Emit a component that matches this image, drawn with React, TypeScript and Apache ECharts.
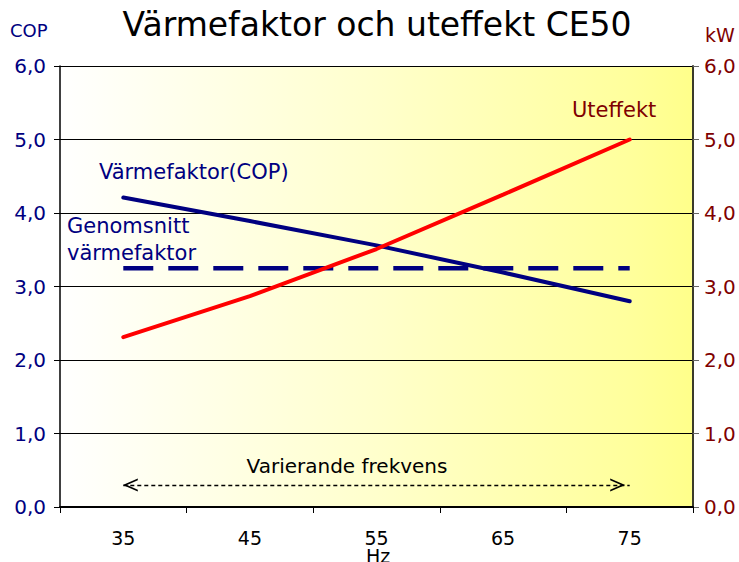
import React, { useEffect, useRef } from "react";
import * as echarts from "echarts";

const categories = ["35", "45", "55", "65", "75"];
const copValues = [4.21, 3.89, 3.56, 3.19, 2.8];
const uteffektValues = [2.31, 2.87, 3.51, 4.25, 5.0];
const averageCop = [3.25, 3.25, 3.25, 3.25, 3.25];
const arrowLevel = 0.3;
const yTicks = [0, 1, 2, 3, 4, 5, 6];

const NAVY = "#000080";
const DARKRED = "#800000";
const FONT = "DejaVu Sans, Verdana, sans-serif";

const fmt = (v: number) => v.toFixed(1).replace(".", ",");

export default function App() {
  const ref = useRef<HTMLDivElement>(null);
  useEffect(() => {
    document.body.style.margin = "0";
    const chart = echarts.init(ref.current!, undefined, { renderer: "svg" });
    const chevron = "path://M0,10 L5,0 L10,10 L8.6,10 L5,2.8 L1.4,10 Z";
    const txt = (text: string, x: number, y: number, size: number, fill: string, align = "left") => ({
      type: "text",
      x,
      y,
      silent: true,
      style: { text, fill, font: `${size}px ${FONT}`, align, verticalAlign: "middle" },
    });
    chart.setOption({
      animation: false,
      textStyle: { fontFamily: FONT },
      grid: {
        left: 60,
        right: 46,
        top: 66,
        bottom: 55,
        outerBoundsMode: "none",
        containLabel: false,
        show: true,
        borderWidth: 0,
        backgroundColor: new echarts.graphic.LinearGradient(0, 0, 1, 0, [
          { offset: 0, color: "#ffffff" },
          { offset: 0.5, color: "#ffffcc" },
          { offset: 0.9, color: "#ffff9c" },
          { offset: 1, color: "#ffff8a" },
        ]),
      },
      xAxis: {
        type: "category",
        data: categories,
        boundaryGap: true,
        axisLine: { lineStyle: { color: "#000", width: 2 } },
        axisTick: { show: true, length: 6, lineStyle: { color: "#000", width: 1 } },
        axisLabel: { color: "#000", fontSize: 19, margin: 21, fontFamily: FONT },
      },
      yAxis: [
        {
          type: "value",
          min: yTicks[0],
          max: yTicks[yTicks.length - 1],
          interval: 1,
          axisLine: { show: true, lineStyle: { color: "#000", width: 1.5 } },
          axisTick: { show: true, length: 6, lineStyle: { color: "#000" } },
          axisLabel: { color: NAVY, fontSize: 20, margin: 14, formatter: fmt, fontFamily: FONT },
          splitLine: { show: true, lineStyle: { color: "#000", width: 1 } },
        },
        {
          type: "value",
          position: "right",
          min: yTicks[0],
          max: yTicks[yTicks.length - 1],
          interval: 1,
          axisLine: { show: true, lineStyle: { color: "#3a3a2a", width: 2 } },
          axisTick: { show: true, length: 6, lineStyle: { color: "#666" } },
          axisLabel: { color: DARKRED, fontSize: 20, margin: 11, formatter: fmt, fontFamily: FONT },
          splitLine: { show: false },
        },
      ],
      series: [
        {
          name: "Genomsnitt värmefaktor",
          type: "line",
          yAxisIndex: 0,
          data: averageCop,
          showSymbol: false,
          lineStyle: { color: NAVY, width: 4.5, type: [30, 15], cap: "butt" },
          z: 3,
          markLine: {
            silent: true,
            symbol: [chevron, chevron],
            symbolSize: [13, 15],
            symbolOffset: [[0, 7], [0, 12]],
            label: { show: false },
            lineStyle: { color: "#000", width: 1.3, type: [4, 3] },
            data: [[{ coord: [categories[0], arrowLevel] }, { coord: [categories[categories.length - 1], arrowLevel] }]],
          },
        },
        {
          name: "Värmefaktor(COP)",
          type: "line",
          yAxisIndex: 0,
          data: copValues,
          showSymbol: false,
          lineStyle: { color: NAVY, width: 4, cap: "round" },
          z: 4,
        },
        {
          name: "Uteffekt",
          type: "line",
          yAxisIndex: 1,
          data: uteffektValues,
          showSymbol: false,
          lineStyle: { color: "#ff0000", width: 4, cap: "round" },
          z: 5,
        },
      ],
      graphic: [
        txt("Värmefaktor och uteffekt CE50", 377, 24, 33, "#000", "center"),
        txt("COP", 10, 30, 18, NAVY),
        txt("kW", 705, 35, 19, DARKRED),
        txt("Värmefaktor(COP)", 99, 171.5, 21, NAVY),
        txt("Genomsnitt", 67, 226, 21, NAVY),
        txt("värmefaktor", 67, 253, 21, NAVY),
        txt("Uteffekt", 572, 109.5, 21, DARKRED),
        txt("Varierande frekvens", 347, 466, 20, "#000", "center"),
        txt("Hz", 378, 556, 19, "#000", "center"),
      ],
    });
    return () => chart.dispose();
  }, []);
  return <div ref={ref} style={{ width: 739, height: 562 }} />;
}
